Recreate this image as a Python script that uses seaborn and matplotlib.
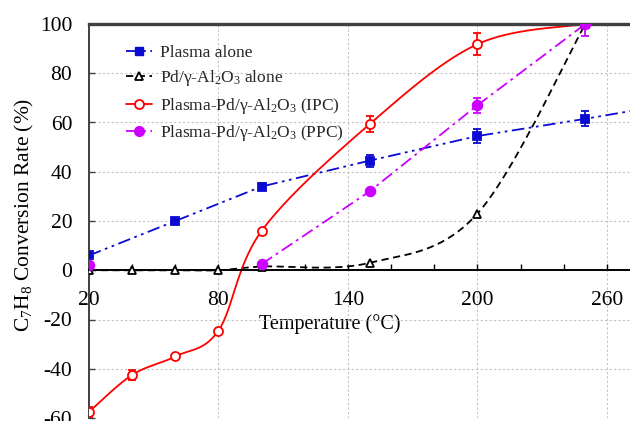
import numpy as np
import matplotlib
matplotlib.use("Agg")
import matplotlib.pyplot as plt
import seaborn as sns
from matplotlib.lines import Line2D
from matplotlib.ticker import MultipleLocator, FixedLocator

# ---------------- data ----------------
temp_plasma = [20, 60, 100, 150, 200, 250, 300]
conv_plasma = [6, 20, 34, 44.5, 54.5, 61.5, 69]
err_plasma = [0, 0, 1.5, 2.5, 3, 3, 0]

temp_cat = [20, 40, 60, 80, 100, 150, 200, 250]
conv_cat = [0, 0, 0, 0, 1.5, 3, 23, 100]

temp_ipc = [20, 40, 60, 80, 100, 150, 200, 250]
conv_ipc = [-57.5, -42.5, -35, -24.5, 16, 59.3, 91.8, 100]
err_ipc = [2, 2, 1, 0, 0, 3.2, 4.5, 0]

temp_ppc = [20, 40, 60, 80, 100, 150, 200, 250]
conv_ppc = [2, np.nan, np.nan, np.nan, 2.5, 32, 67, 100]
err_ppc = [0, 0, 0, 0, 0, 0, 3, 5]

labels = ["Plasma alone",
          "Pd/\u03b3-Al$_2$O$_3$ alone",
          "Plasma-Pd/\u03b3-Al$_2$O$_3$ (IPC)",
          "Plasma-Pd/\u03b3-Al$_2$O$_3$ (PPC)"]
xtick_vals = [20, 80, 140, 200, 260]
ytick_vals = [-60, -40, -20, 0, 20, 40, 60, 80, 100]

c_blue, c_black, c_red, c_mag = "#0a0ad2", "#000000", "#ff0000", "#cc00ff"


def smooth(xs, ys, n=40):
    """Bezier (Catmull-Rom style) smoothing of a polyline for drawing."""
    P = np.column_stack([xs, ys]).astype(float)
    out = []
    m = len(P)
    for i in range(m - 1):
        p0 = P[i - 1] if i > 0 else P[i]
        p1, p2 = P[i], P[i + 1]
        p3 = P[i + 2] if i + 2 < m else P[i + 1]
        c1 = p1 + (p2 - p0) / 6.0
        c2 = p2 - (p3 - p1) / 6.0
        t = np.linspace(0, 1, n)[:, None]
        seg = ((1 - t) ** 3) * p1 + 3 * ((1 - t) ** 2) * t * c1 + 3 * (1 - t) * t ** 2 * c2 + t ** 3 * p2
        out.append(seg if i == 0 else seg[1:])
    S = np.vstack(out)
    return S[:, 0], S[:, 1]


sns.set_theme(style="white")
plt.rcParams["font.family"] = ["Liberation Serif", "DejaVu Serif"]
plt.rcParams["mathtext.fontset"] = "custom"
plt.rcParams["mathtext.rm"] = "Liberation Serif"
plt.rcParams["mathtext.it"] = "Liberation Serif:italic"
plt.rcParams["mathtext.bf"] = "Liberation Serif:bold"
plt.rcParams["axes.unicode_minus"] = False

fig = plt.figure(figsize=(6.3, 4.21), dpi=100)
ax = fig.add_axes([89 / 630, 3 / 421, 1 - 89 / 630, 394 / 421])

lw = 1.3
ls_blue = (0, (7, 2.5, 1.5, 2.5, 1.5, 2.5))
ls_mag = (0, (7, 2.5, 1.5, 2.5))
ls_black = (0, (4, 2.5))

# lines
sns.lineplot(x=temp_plasma, y=conv_plasma, ax=ax, color=c_blue, lw=lw,
             linestyle=ls_blue, sort=False, estimator=None)
sx, sy = smooth(temp_cat, conv_cat)
sns.lineplot(x=sx, y=sy, ax=ax, color=c_black, lw=lw, linestyle=ls_black,
             sort=False, estimator=None)
sx, sy = smooth(temp_ipc, conv_ipc)
sns.lineplot(x=sx, y=sy, ax=ax, color=c_red, lw=lw, sort=False, estimator=None)
ax.plot(temp_ppc, conv_ppc, color=c_mag, lw=lw, linestyle=ls_mag)

# markers + error bars
def mk(xs, ys, es, color, marker, ms, mfc, z):
    xs = np.asarray(xs, float); ys = np.asarray(ys, float)
    es = np.asarray(es, float) if es is not None else None
    if es is not None:
        sel = es > 0
        ax.errorbar(xs[sel], ys[sel], yerr=es[sel], fmt="none", ecolor=color,
                    elinewidth=1.3, capsize=3, capthick=1.3, zorder=z)
    ax.plot(xs, ys, linestyle="none", marker=marker, ms=ms, mfc=mfc,
            mec=color, mew=1.3, zorder=z + 0.1)

mk(temp_plasma, conv_plasma, err_plasma, c_blue, "s", 6.0, c_blue, 4)
mk(temp_cat, conv_cat, None, c_black, "^", 6.0, "white", 4)
mk(temp_ipc, conv_ipc, err_ipc, c_red, "o", 6.5, "white", 5)
mk(temp_ppc, conv_ppc, err_ppc, c_mag, "o", 7.0, c_mag, 6)

# axes
ax.set_xlim(20, 270.7)
ax.set_ylim(-60, 100)
ax.xaxis.set_major_locator(FixedLocator(xtick_vals))
ax.xaxis.set_minor_locator(MultipleLocator(20))
ax.yaxis.set_major_locator(FixedLocator(ytick_vals))
ax.spines["bottom"].set_position(("data", 0))
ax.spines["bottom"].set_color("black")
ax.spines["bottom"].set_linewidth(1.4)
ax.spines["right"].set_visible(False)
ax.spines["top"].set_color("#404040")
ax.spines["top"].set_linewidth(2.4)
ax.spines["left"].set_color("#404040")
ax.spines["left"].set_linewidth(1.4)
ax.tick_params(axis="x", which="both", direction="in", length=4, width=1,
               color="black", labelsize=15.5, pad=15, bottom=True, top=False)
ax.tick_params(axis="y", which="major", direction="in", length=4, width=1,
               color="#404040", labelsize=15.5, pad=12, left=True)
ax.grid(True, which="major", color="#c4c4c4", linestyle=(0, (2, 2)), lw=0.8)
ax.set_axisbelow(True)
for lab in ax.get_xticklabels() + ax.get_yticklabels():
    lab.set_color("black")

ax.set_xlabel("Temperature (\u00b0C)", fontsize=14.5, color="black")
ax.xaxis.set_label_coords((330 - 89) / 541, (418 - 314) / 394)
ax.set_ylabel("C$_7$H$_8$ Conversion Rate (%)", fontsize=15.5, color="black")
ax.yaxis.set_label_coords(-0.098, 0.515)

handles = [
    Line2D([], [], color=c_blue, lw=lw, linestyle=ls_blue, marker="s", ms=6, mfc=c_blue, mec=c_blue),
    Line2D([], [], color=c_black, lw=lw, linestyle=ls_black, marker="^", ms=6, mfc="white", mec=c_black, mew=1.3),
    Line2D([], [], color=c_red, lw=lw, marker="o", ms=6.5, mfc="white", mec=c_red, mew=1.3),
    Line2D([], [], color=c_mag, lw=lw, linestyle=ls_mag, marker="o", ms=7, mfc=c_mag, mec=c_mag),
]
leg = ax.legend(handles, labels, loc="upper left",
                bbox_to_anchor=((126 - 89) / 541, (418 - 45) / 394),
                frameon=False, fontsize=12.5, handlelength=1.5,
                handletextpad=0.45, labelspacing=0.42, borderpad=0,
                borderaxespad=0)

fig.savefig("out.png", dpi=100)
